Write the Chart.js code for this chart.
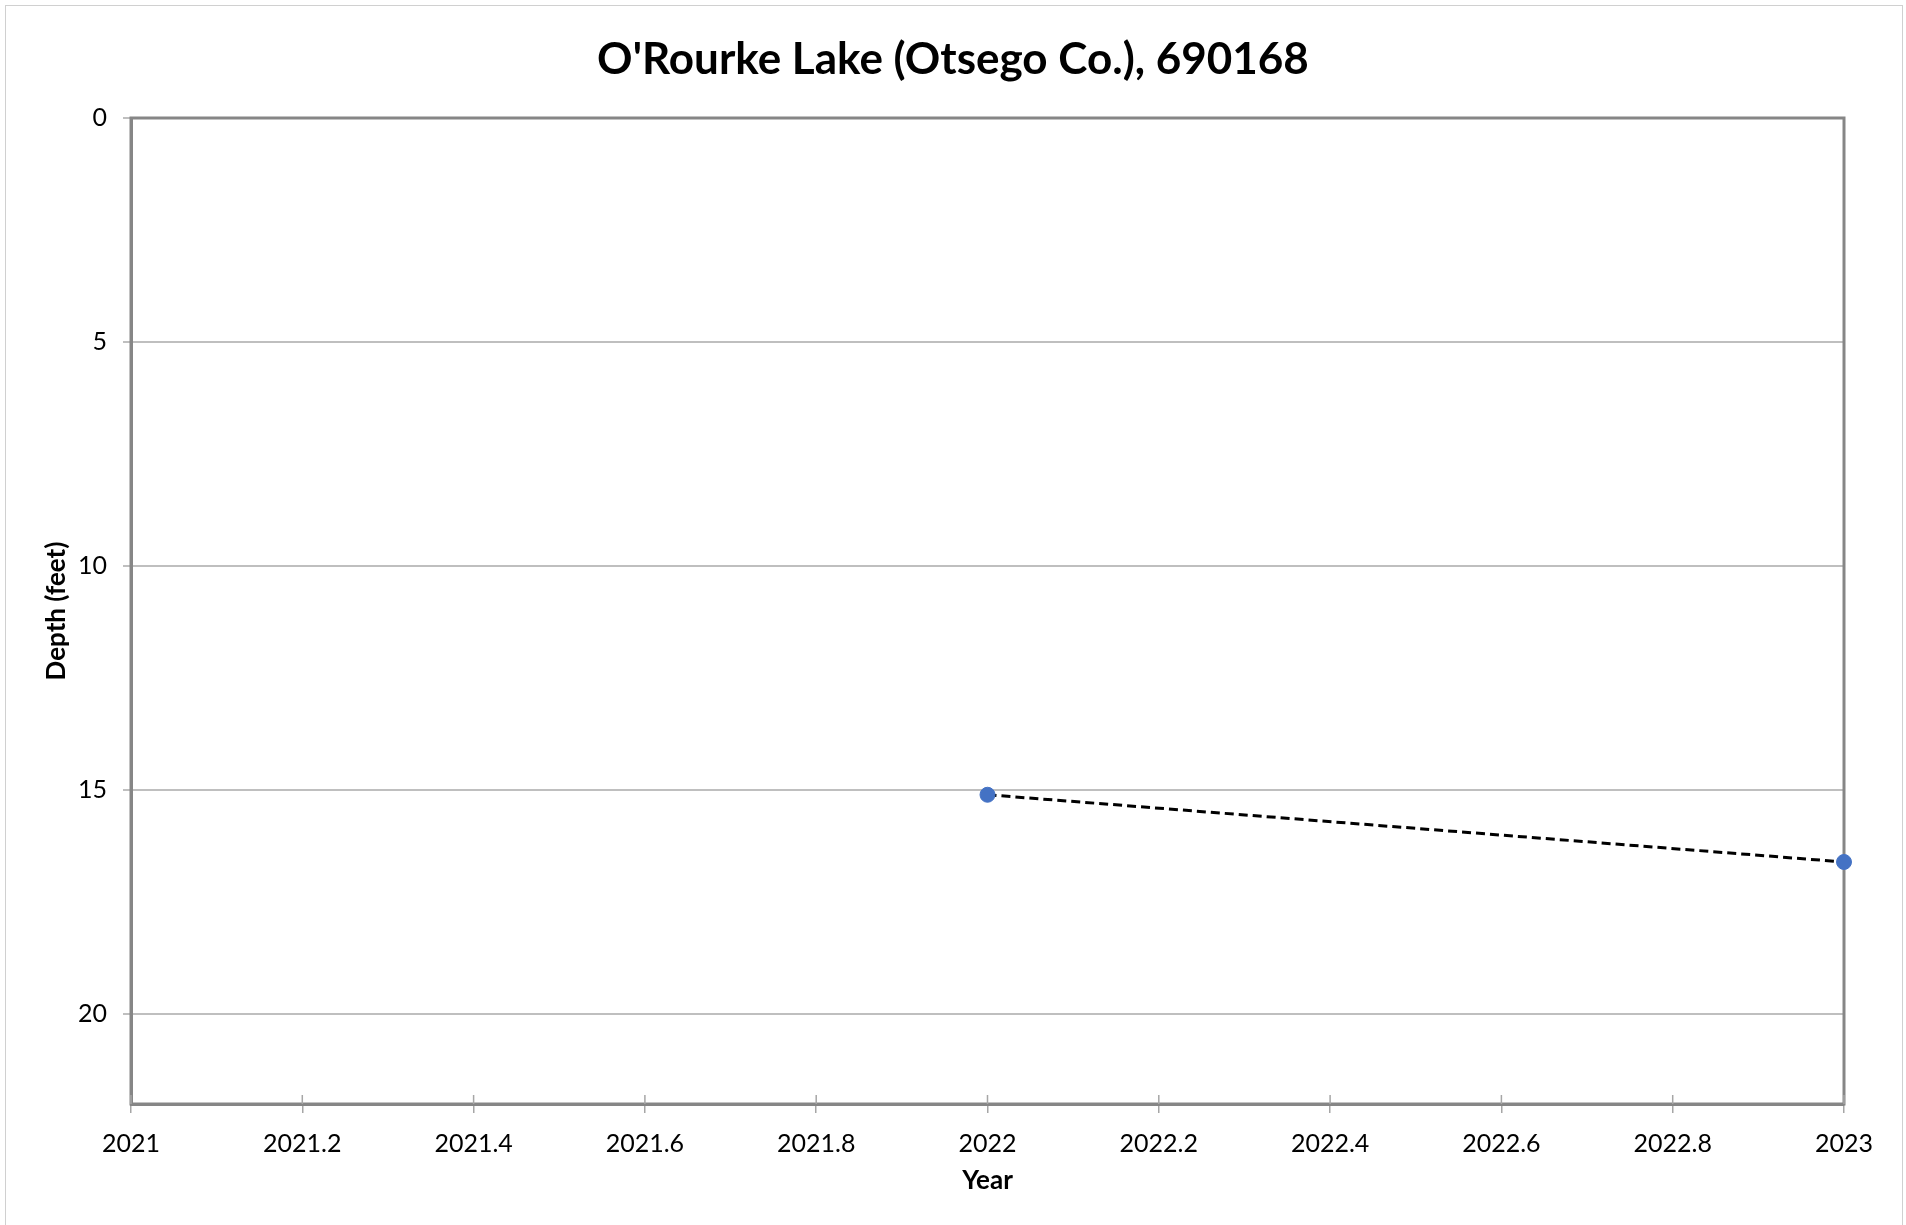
<!DOCTYPE html>
<html>
<head>
<meta charset="utf-8">
<script src="https://cdn.jsdelivr.net/npm/chart.js@4.4.1/dist/chart.umd.min.js"></script>
<style>
    body { margin: 0; background: #fff; }
    #frame { position: absolute; left: 5px; top: 5px; width: 1896px; height: 1240px; border: 1px solid #d0d0d0; }
    #wrap { position: absolute; left: 0; top: 0; width: 1906px; height: 1225px; }
</style>
</head>
<body>
<div id="frame"></div>
<div id="wrap"><canvas id="depthChart"></canvas></div>
<script>
// Secchi depth readings
const years = [2022, 2023];
const depths = [15.1, 16.6];
const xTicks = [2021, 2021.2, 2021.4, 2021.6, 2021.8, 2022, 2022.2, 2022.4, 2022.6, 2022.8, 2023];
const yTicks = [0, 5, 10, 15, 20];

const FONT = 'Lato, "Open Sans", sans-serif';
const AXIS_COLOR = '#868686';
const GRID_COLOR = '#bfbfbf';

// Plot border plus the small tick marks Excel draws inside the x axis
const plotFrame = {
    id: 'plotFrame',
    beforeDatasetsDraw(chart) {
        const { ctx, chartArea, scales } = chart;
        ctx.save();
        ctx.strokeStyle = AXIS_COLOR;
        ctx.lineWidth = 3;
        ctx.strokeRect(chartArea.left, chartArea.top, chartArea.right - chartArea.left, chartArea.bottom - chartArea.top);
        ctx.lineWidth = 1.5;
        ctx.strokeStyle = '#a6a6a6';
        xTicks.forEach(function(v) {
            const x = scales.x.getPixelForValue(v);
            ctx.beginPath();
            ctx.moveTo(x, chartArea.bottom);
            ctx.lineTo(x, chartArea.bottom - 9);
            ctx.stroke();
        });
        ctx.restore();
    }
};

new Chart(document.getElementById('depthChart'), {
    type: 'scatter',
    data: {
        datasets: [{
            label: 'Depth',
            data: years.map((y, i) => ({ x: y, y: depths[i] })),
            showLine: true,
            clip: false,
            borderColor: '#000000',
            borderWidth: 3,
            borderDash: [9, 5],
            pointRadius: 7.5,
            pointHoverRadius: 7.5,
            pointBackgroundColor: '#4472c4',
            pointBorderColor: '#4472c4',
            pointBorderWidth: 1
        }]
    },
    options: {
        responsive: true,
        maintainAspectRatio: false,
        animation: false,
        layout: { padding: 0 },
        plugins: {
            legend: { display: false },
            tooltip: { enabled: false },
            title: {
                display: true,
                text: "O'Rourke Lake (Otsego Co.), 690168",
                color: '#000',
                font: { family: FONT, size: 44, weight: 'bold', lineHeight: 1.2 },
                padding: { top: 33, bottom: 32.2 }
            }
        },
        scales: {
            x: {
                type: 'linear',
                min: 2021,
                max: 2023,
                afterBuildTicks: function(scale) { scale.ticks = xTicks.map(v => ({ value: v })); },
                afterFit: function(scale) { scale.height = 121; },
                border: { display: true, color: AXIS_COLOR, width: 3 },
                grid: { drawOnChartArea: false, drawTicks: true, tickLength: 9, color: '#a6a6a6', lineWidth: 1.5 },
                ticks: {
                    color: '#000',
                    font: { family: FONT, size: 25 },
                    padding: 16,
                    maxRotation: 0,
                    autoSkip: false,
                    callback: v => String(Number(v.toFixed(1)))
                },
                title: {
                    display: true,
                    text: 'Year',
                    color: '#000',
                    font: { family: FONT, size: 26, weight: 'bold', lineHeight: 1.2 },
                    padding: { top: 0, bottom: 29 }
                }
            },
            y: {
                type: 'linear',
                min: 0,
                max: 22,
                reverse: true,
                afterBuildTicks: function(scale) { scale.ticks = yTicks.map(v => ({ value: v })); },
                afterFit: function(scale) { scale.width = 131; },
                border: { display: true, color: AXIS_COLOR, width: 3 },
                grid: { color: GRID_COLOR, lineWidth: 2, tickLength: 8 },
                ticks: {
                    color: '#000',
                    font: { family: FONT, size: 25 },
                    padding: 16
                },
                title: {
                    display: true,
                    text: 'Depth (feet)',
                    color: '#000',
                    font: { family: FONT, size: 26, weight: 'bold', lineHeight: 1.2 },
                    padding: { top: 41, bottom: 0 }
                }
            },
            // empty right-hand gutter so the title centres on the whole canvas
            yRight: {
                type: 'linear',
                position: 'right',
                min: 0,
                max: 22,
                afterFit: function(scale) { scale.width = 62; },
                border: { display: false },
                grid: { display: false },
                ticks: { display: false }
            }
        }
    },
    plugins: [plotFrame]
});
</script>
</body>
</html>
